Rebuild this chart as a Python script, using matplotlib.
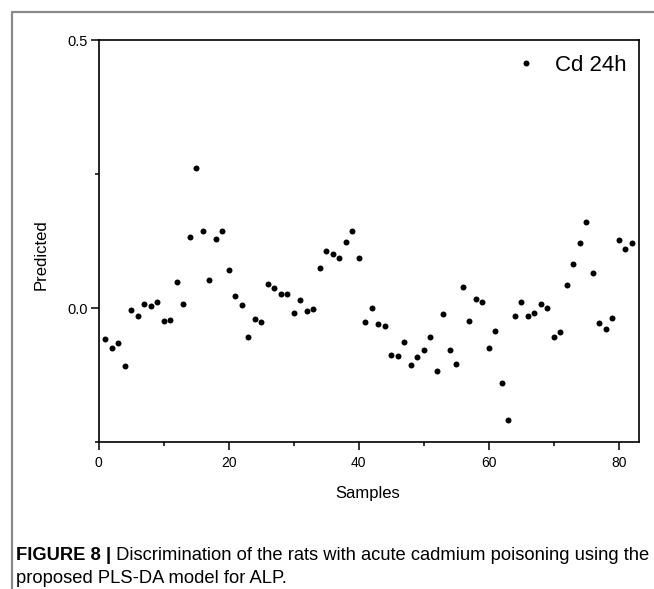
import matplotlib
matplotlib.use("Agg")
import matplotlib.pyplot as plt
from matplotlib.lines import Line2D
from matplotlib.ticker import MultipleLocator

plt.rcParams["font.family"] = ["Liberation Sans", "DejaVu Sans"]

# sample index and PLS-DA predicted value
samples = list(range(1, 83))
predicted = [
    -0.057, -0.075, -0.066, -0.109, -0.004, -0.014, 0.007, 0.003, 0.012, -0.025,
    -0.022, 0.049, 0.007, 0.132, 0.261, 0.144, 0.052, 0.129, 0.144, 0.070,
    0.022, 0.005, -0.055, -0.021, -0.027, 0.044, 0.037, 0.026, 0.027, -0.009,
    0.014, -0.006, -0.001, 0.075, 0.107, 0.101, 0.094, 0.124, 0.144, 0.093,
    -0.026, 0.000, -0.029, -0.034, -0.087, -0.090, -0.064, -0.107, -0.091, -0.078,
    -0.054, -0.117, -0.011, -0.078, -0.104, 0.040, -0.025, 0.016, 0.012, -0.075,
    -0.042, -0.140, -0.209, -0.014, 0.011, -0.015, -0.009, 0.008, 0.000, -0.054,
    -0.044, 0.043, 0.082, 0.122, 0.161, 0.066, -0.028, -0.039, -0.019, 0.127,
    0.111, 0.121,
]
series_label = "Cd 24h"
caption_bold = "FIGURE 8 |"
caption_rest = " Discrimination of the rats with acute cadmium poisoning using the"
caption_line2 = "proposed PLS-DA model for ALP."

W, H = 654, 589
fig = plt.figure(figsize=(W / 100, H / 100), dpi=100)
ax = fig.add_axes([98.5 / W, 1 - 442 / H, 540 / W, 402 / H])

ax.plot(samples, predicted, "o", color="black", ms=4.3, mec="none", label=series_label)
ax.set_xlim(0, 83)
ax.set_ylim(-0.25, 0.5)

ax.xaxis.set_major_locator(MultipleLocator(20))
ax.xaxis.set_minor_locator(MultipleLocator(10))
ax.yaxis.set_major_locator(MultipleLocator(0.5))
ax.yaxis.set_minor_locator(MultipleLocator(0.25))
ax.yaxis.set_major_formatter(plt.FuncFormatter(lambda v, p: f"{v:.1f}"))
ax.tick_params(axis="both", which="major", direction="out", length=6, width=1.1)
ax.tick_params(axis="both", which="minor", direction="out", length=3, width=1.1)
ax.tick_params(axis="x", labelsize=10, pad=4)
ax.tick_params(axis="y", labelsize=10.5, pad=2)
for s in ax.spines.values():
    s.set_linewidth(1.2)

ax.set_xlabel("Samples", fontsize=12)
ax.set_ylabel("Predicted", fontsize=12)
ax.xaxis.set_label_coords(0.499, -0.11)
ax.yaxis.set_label_coords(-0.093, 0.465)

ax.legend(loc="upper right", frameon=False, fontsize=16, markerscale=1.0,
          handlelength=0.8, handletextpad=0.9, borderaxespad=0.0,
          bbox_to_anchor=(0.995, 0.985))

# grey frame around the figure panel (open on right / bottom)
fig.add_artist(Line2D([12 / W, 12 / W, 1.0], [0.0, 1 - 12 / H, 1 - 12 / H],
                      transform=fig.transFigure, color="#8a8a8a", lw=1.6))

cap_size = 13.2
t = fig.text(16 / W, 1 - 560 / H, caption_bold, fontsize=cap_size, fontweight="bold",
             va="baseline", ha="left")
fig.canvas.draw()
bb = t.get_window_extent()
fig.text(bb.x1 / W, 1 - 560 / H, caption_rest, fontsize=cap_size, va="baseline", ha="left")
fig.text(16 / W, 1 - 583 / H, caption_line2, fontsize=cap_size, va="baseline", ha="left")

fig.savefig("out.png", dpi=100)
